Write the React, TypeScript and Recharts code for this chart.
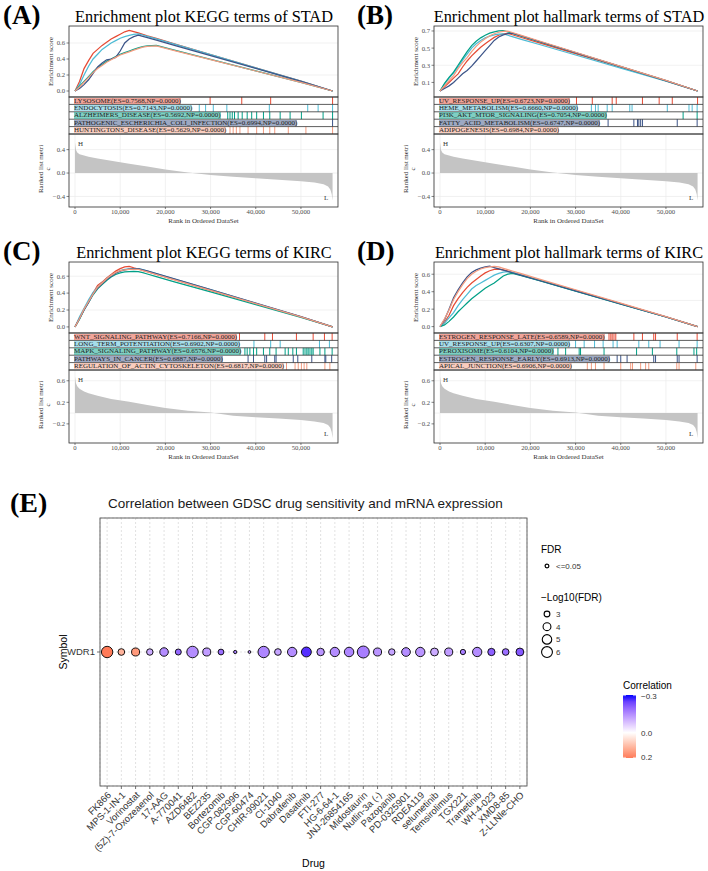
import React from "react";
import {
  LineChart,
  Line,
  AreaChart,
  Area,
  ScatterChart,
  Scatter,
  XAxis,
  YAxis,
  ZAxis,
  CartesianGrid,
  ReferenceLine,
  Cell,
} from "recharts";

const SERIF = '"Liberation Serif", "Times New Roman", serif';
const SANS = '"Liberation Sans", Arial, Helvetica, sans-serif';

// ggsci "npg" colours, one per gene-set row
const SET_COLORS = ["#E64B35", "#4DBBD5", "#00A087", "#3C5488", "#F39B7F"];

// ---------- running enrichment score, sampled at these ranks ----------
const ES_RANKS = [
  0, 1000, 2000, 3000, 4000, 5000, 6000, 7000, 8000, 9000, 10000, 11000, 12000,
  13000, 14000, 15000, 16000, 18000, 22000, 30000, 40000, 50000, 57000,
];

// STAD / KEGG
const lysosomeEs = [0, 0.12, 0.28, 0.38, 0.47, 0.52, 0.57, 0.61, 0.65, 0.68, 0.71, 0.74, 0.7568, 0.742, 0.726, 0.708, 0.69, 0.657, 0.59, 0.456, 0.29, 0.124, 0];
const endocytosisEs = [0, 0.08, 0.2, 0.31, 0.4, 0.46, 0.52, 0.56, 0.6, 0.63, 0.66, 0.68, 0.695, 0.708, 0.7143, 0.7, 0.684, 0.652, 0.587, 0.455, 0.29, 0.125, 0];
const alzheimersEs = [0, 0.06, 0.12, 0.18, 0.24, 0.29, 0.33, 0.37, 0.4, 0.43, 0.46, 0.48, 0.5, 0.52, 0.54, 0.555, 0.565, 0.5692, 0.511, 0.396, 0.252, 0.108, 0];
const ecoliEs = [0, 0.03, 0.08, 0.14, 0.22, 0.3, 0.35, 0.39, 0.4, 0.42, 0.5, 0.6, 0.65, 0.68, 0.6994, 0.683, 0.667, 0.635, 0.57, 0.443, 0.282, 0.121, 0];
const huntingtonsEs = [0, 0.05, 0.11, 0.17, 0.23, 0.28, 0.32, 0.36, 0.39, 0.42, 0.45, 0.47, 0.49, 0.51, 0.53, 0.548, 0.558, 0.5629, 0.506, 0.392, 0.25, 0.107, 0];

// STAD / hallmark
const uvUpStadEs = [0, 0.05, 0.1, 0.15, 0.2, 0.28, 0.35, 0.41, 0.46, 0.51, 0.55, 0.59, 0.625, 0.65, 0.665, 0.6723, 0.656, 0.624, 0.561, 0.435, 0.277, 0.119, 0];
const hemeEs = [0, 0.08, 0.15, 0.21, 0.28, 0.36, 0.43, 0.5, 0.55, 0.59, 0.62, 0.64, 0.655, 0.663, 0.666, 0.65, 0.635, 0.603, 0.542, 0.42, 0.267, 0.115, 0];
const pi3kEs = [0, 0.09, 0.16, 0.22, 0.3, 0.38, 0.46, 0.53, 0.58, 0.62, 0.65, 0.675, 0.69, 0.7, 0.7054, 0.689, 0.673, 0.64, 0.575, 0.446, 0.284, 0.122, 0];
const fattyAcidEs = [0, 0.03, 0.06, 0.1, 0.15, 0.2, 0.24, 0.29, 0.35, 0.41, 0.47, 0.53, 0.59, 0.63, 0.655, 0.67, 0.6747, 0.642, 0.577, 0.447, 0.285, 0.122, 0];
const adipogenesisEs = [0, 0.06, 0.12, 0.18, 0.26, 0.33, 0.39, 0.46, 0.52, 0.57, 0.61, 0.645, 0.668, 0.685, 0.695, 0.6984, 0.682, 0.649, 0.583, 0.452, 0.288, 0.123, 0];

// KIRC / KEGG
const wntEs = [0, 0.1, 0.21, 0.3, 0.4, 0.49, 0.53, 0.58, 0.62, 0.66, 0.69, 0.71, 0.7166, 0.7, 0.685, 0.67, 0.654, 0.622, 0.559, 0.433, 0.276, 0.118, 0];
const ltpEs = [0, 0.12, 0.22, 0.32, 0.41, 0.47, 0.52, 0.57, 0.61, 0.64, 0.665, 0.68, 0.688, 0.6902, 0.689, 0.677, 0.661, 0.63, 0.566, 0.44, 0.28, 0.12, 0];
const mapkEs = [0, 0.09, 0.2, 0.29, 0.38, 0.45, 0.5, 0.55, 0.59, 0.62, 0.64, 0.65, 0.655, 0.6576, 0.655, 0.642, 0.626, 0.595, 0.534, 0.414, 0.264, 0.113, 0];
const cancerEs = [0, 0.1, 0.2, 0.29, 0.39, 0.46, 0.51, 0.56, 0.6, 0.635, 0.66, 0.675, 0.683, 0.688, 0.6887, 0.676, 0.662, 0.632, 0.568, 0.442, 0.282, 0.121, 0];
const actinEs = [0, 0.1, 0.21, 0.3, 0.39, 0.47, 0.52, 0.57, 0.61, 0.645, 0.665, 0.675, 0.68, 0.6817, 0.68, 0.667, 0.652, 0.62, 0.557, 0.432, 0.275, 0.118, 0];

// KIRC / hallmark
const estrogenLateEs = [0, 0.05, 0.13, 0.24, 0.32, 0.39, 0.45, 0.5, 0.54, 0.58, 0.615, 0.64, 0.655, 0.6589, 0.65, 0.636, 0.622, 0.592, 0.533, 0.414, 0.264, 0.113, 0];
const uvUpKircEs = [0, 0.04, 0.1, 0.16, 0.24, 0.31, 0.37, 0.43, 0.47, 0.5, 0.53, 0.56, 0.59, 0.61, 0.625, 0.6307, 0.62, 0.59, 0.53, 0.41, 0.26, 0.112, 0];
const peroxisomeEs = [0, 0.02, 0.06, 0.11, 0.17, 0.22, 0.27, 0.32, 0.36, 0.4, 0.44, 0.47, 0.5, 0.54, 0.58, 0.6, 0.6104, 0.585, 0.526, 0.405, 0.258, 0.11, 0];
const estrogenEarlyEs = [0, 0.08, 0.2, 0.33, 0.42, 0.5, 0.57, 0.62, 0.65, 0.67, 0.685, 0.6913, 0.676, 0.661, 0.646, 0.632, 0.617, 0.587, 0.528, 0.41, 0.26, 0.111, 0];
const apicalEs = [0, 0.09, 0.19, 0.31, 0.4, 0.48, 0.55, 0.6, 0.635, 0.66, 0.675, 0.684, 0.6906, 0.683, 0.667, 0.652, 0.637, 0.606, 0.545, 0.422, 0.269, 0.115, 0];

// ---------- hit positions (rank of each gene in the set) ----------
const lysosomeHits = [29900, 36900, 43300, 57000];
const endocytosisHits = [27500, 28900, 30600, 33600, 43000, 51500, 53800, 57000];
const alzheimersHits = [33800, 34300, 34800, 35300, 36100, 37000, 38100, 39100, 40200, 41700, 43100, 45400, 47600, 50100, 54900, 57000];
const ecoliHits = [57000];
const huntingtonsHits = [34300, 35000, 35700, 36500, 38300, 40200, 41700, 43100, 44200, 47200, 51100, 57000];

const uvUpStadHits = [30200, 33700, 38100, 39000, 44800, 48500, 51400, 57000];
const hemeHits = [33500, 34400, 35000, 37000, 38100, 42000, 42500, 50300, 55100, 55800, 56900];
const pi3kHits = [53800, 56900];
const fattyAcidHits = [37200, 42900, 43700, 44000, 44400, 44800, 52500, 56900];
const adipogenesisHits: number[] = [];

const wntHits = [36400, 42000, 43700, 49000, 52700, 55200, 56900];
const ltpHits = [39600, 43300, 45400, 54100, 56300];
const mapkHits = [37600, 38100, 38700, 39500, 40200, 41700, 43100, 44500, 46500, 47200, 48200, 49000, 50500, 50900, 51300, 51600, 52000, 52400, 52700, 54200, 55300, 56900];
const cancerHits = [38300, 39500, 42000, 42400, 44200, 44500, 48300, 49300, 52400, 55300, 55500, 56800];
const actinHits = [46800, 48700, 49400, 50100, 50700, 51300, 55300, 56400];

const estrogenLateHits = [37400, 37800, 38100, 38500, 38900, 42900, 44800, 47300, 47700, 52500, 56900];
const uvUpKircHits = [30000, 31900, 34200, 36100, 38300, 39200, 44000, 46200, 48700, 52900, 56900];
const peroxisomeHits = [26100, 27800, 30800, 31100, 36300, 43500, 47000, 52400, 56200, 56800];
const estrogenEarlyHits = [39200, 40000, 41400, 47300, 47700, 52500, 52900, 56900];
const apicalHits = [32600, 33500, 34400, 36300, 40000, 42200, 42600, 44400, 45500, 46200, 52400, 52900, 56600];

// ---------- ranked list metric ----------
const METRIC_RANKS = [0, 200, 500, 1000, 2000, 3000, 5000, 8000, 12000, 16000, 20000, 25000, 30000, 35000, 40000, 45000, 50000, 53000, 55000, 56000, 56500, 56800, 57000];
const stadMetric = [0.52, 0.4, 0.35, 0.32, 0.3, 0.28, 0.25, 0.21, 0.16, 0.11, 0.06, 0.01, -0.035, -0.065, -0.09, -0.115, -0.14, -0.16, -0.19, -0.23, -0.28, -0.36, -0.47];
const kircMetric = [0.68, 0.56, 0.5, 0.45, 0.4, 0.37, 0.32, 0.26, 0.21, 0.15, 0.095, 0.045, 0.01, -0.05, -0.075, -0.1, -0.13, -0.155, -0.185, -0.22, -0.27, -0.35, -0.46];

// ---------- drug sensitivity (GDSC) ----------
const GENE = "WDR1";
const DRUGS = [
  "FK866", "MPS-1-IN-1", "Vorinostat", "(5Z)-7-Oxozeaenol", "17-AAG", "A-770041",
  "AZD6482", "BEZ235", "Bortezomib", "CGP-082996", "CGP-60474", "CHIR-99021",
  "CI-1040", "Dabrafenib", "Dasatinib", "FTI-277", "HG-6-64-1", "JNJ-26854165",
  "Midostaurin", "Nutlin-3a (-)", "Pazopanib", "PD-0325901", "RDEA119", "selumetinib",
  "Temsirolimus", "TGX221", "Trametinib", "WH-4-023", "XMD8-85", "Z-LLNle-CHO",
];
const CORRELATION = [0.205, 0.12, 0.16, -0.11, -0.15, -0.2, -0.15, -0.13, -0.19, -0.17, -0.14, -0.16, -0.12, -0.15, -0.27, -0.14, -0.15, -0.16, -0.17, -0.14, -0.12, -0.15, -0.14, -0.11, -0.13, -0.17, -0.15, -0.21, -0.19, -0.22];
const NEG_LOG_FDR = [6.4, 3.4, 4.1, 3.3, 4.4, 3.1, 6.5, 4.1, 3.0, 2.2, 2.1, 6.4, 3.4, 4.9, 5.3, 3.8, 4.9, 5.0, 6.9, 4.1, 3.3, 4.5, 4.9, 4.0, 4.1, 2.8, 4.9, 3.7, 3.4, 4.0];
const FDR_BREAKS = [3, 4, 5, 6];
const CORR_BREAKS = [-0.3, 0.0, 0.2];
const CORR_RANGE = [-0.305, 0.205];
const CORR_LIMIT = 0.305;
const Z_DOMAIN = [2, 7];
const Z_RANGE = [4, 115];

// ---------- layout of one GSEA panel (local px) ----------
const X_DOMAIN = [-1330, 58200];
const X_TICKS = [0, 10000, 20000, 30000, 40000, 50000];
const PL = 69;
const PR = 338;
const YW = 30;
const ES_TOP = 26;
const ES_H = 71;
const ROWS_TOP = 97;
const ROW_H = 7.4;
const MET_TOP = 134;
const MET_H = 73;

const TICK = { fontSize: 6.7, fontFamily: SERIF, fill: "#4D4D4D" };
const TICK_LINE = { stroke: "#333", strokeWidth: 0.6 };

const fmt1 = (v: number) => v.toFixed(1);
const fmtSigned = (v: number) => (v < 0 ? "\u2212" : "") + Math.abs(v).toFixed(1);

function rgba(hex: string, a: number) {
  const n = parseInt(hex.slice(1), 16);
  return `rgba(${n >> 16},${(n >> 8) & 255},${n & 255},${a})`;
}

function geneSet(name: string, es: number[], hits: number[]) {
  return { name, es, hits, label: `${name}(ES=${Math.max(...es).toFixed(4)},NP=0.0000)` };
}

const PANELS = [
  {
    left: 0, top: 0, tagX: 3, tag: "(A)",
    title: "Enrichment plot KEGG terms of STAD",
    sets: [
      geneSet("LYSOSOME", lysosomeEs, lysosomeHits),
      geneSet("ENDOCYTOSIS", endocytosisEs, endocytosisHits),
      geneSet("ALZHEIMERS_DISEASE", alzheimersEs, alzheimersHits),
      geneSet("PATHOGENIC_ESCHERICHIA_COLI_INFECTION", ecoliEs, ecoliHits),
      geneSet("HUNTINGTONS_DISEASE", huntingtonsEs, huntingtonsHits),
    ],
    esDomain: [-0.075, 0.8125], esTicks: [0, 0.2, 0.4, 0.6],
    metric: stadMetric, metricDomain: [-0.58, 0.667], metricTicks: [-0.4, -0.2, 0, 0.2, 0.4],
  },
  {
    left: 365, top: 0, tagX: 357, tag: "(B)",
    title: "Enrichment plot hallmark terms of STAD",
    sets: [
      geneSet("UV_RESPONSE_UP", uvUpStadEs, uvUpStadHits),
      geneSet("HEME_METABOLISM", hemeEs, hemeHits),
      geneSet("PI3K_AKT_MTOR_SIGNALING", pi3kEs, pi3kHits),
      geneSet("FATTY_ACID_METABOLISM", fattyAcidEs, fattyAcidHits),
      geneSet("ADIPOGENESIS", adipogenesisEs, adipogenesisHits),
    ],
    esDomain: [-0.07, 0.758], esTicks: [0, 0.1, 0.2, 0.3, 0.4, 0.5, 0.6, 0.7],
    metric: stadMetric, metricDomain: [-0.58, 0.667], metricTicks: [-0.4, -0.2, 0, 0.2, 0.4],
  },
  {
    left: 0, top: 236, tagX: 3, tag: "(C)",
    title: "Enrichment plot KEGG terms of KIRC",
    sets: [
      geneSet("WNT_SIGNALING_PATHWAY", wntEs, wntHits),
      geneSet("LONG_TERM_POTENTIATION", ltpEs, ltpHits),
      geneSet("MAPK_SIGNALING_PATHWAY", mapkEs, mapkHits),
      geneSet("PATHWAYS_IN_CANCER", cancerEs, cancerHits),
      geneSet("REGULATION_OF_ACTIN_CYTOSKELETON", actinEs, actinHits),
    ],
    esDomain: [-0.072, 0.768], esTicks: [0, 0.2, 0.4, 0.6],
    metric: kircMetric, metricDomain: [-0.555, 0.8], metricTicks: [-0.4, -0.2, 0, 0.2, 0.4, 0.6],
  },
  {
    left: 365, top: 236, tagX: 357, tag: "(D)",
    title: "Enrichment plot hallmark terms of KIRC",
    sets: [
      geneSet("ESTROGEN_RESPONSE_LATE", estrogenLateEs, estrogenLateHits),
      geneSet("UV_RESPONSE_UP", uvUpKircEs, uvUpKircHits),
      geneSet("PEROXISOME", peroxisomeEs, peroxisomeHits),
      geneSet("ESTROGEN_RESPONSE_EARLY", estrogenEarlyEs, estrogenEarlyHits),
      geneSet("APICAL_JUNCTION", apicalEs, apicalHits),
    ],
    esDomain: [-0.073, 0.74], esTicks: [0, 0.1, 0.2, 0.3, 0.4, 0.5, 0.6],
    metric: kircMetric, metricDomain: [-0.555, 0.8], metricTicks: [-0.4, -0.2, 0, 0.2, 0.4, 0.6],
  },
];

function GseaPanel({ spec }: { spec: any }) {
  const { left, top, tagX, tag, title, sets, esDomain, esTicks, metric, metricDomain, metricTicks } = spec;
  const esRows = ES_RANKS.map((rank, i) => {
    const row: Record<string, number> = { rank };
    sets.forEach((s: any, j: number) => {
      row[`s${j}`] = s.es[i];
    });
    return row;
  });
  const metricRows = METRIC_RANKS.map((rank, i) => ({ rank, metric: metric[i] }));
  const rowsH = ROW_H * sets.length;

  return (
    <div style={{ position: "absolute", left, top, width: 354, height: 236 }}>
      {/* running enrichment score */}
      <div style={{ position: "absolute", left: 0, top: ES_TOP }}>
        <LineChart width={PR} height={ES_H} data={esRows} margin={{ top: 0, right: 0, bottom: 0, left: PL - YW }}>
          <CartesianGrid stroke="#EBEBEB" strokeWidth={0.7} />
          <XAxis type="number" dataKey="rank" domain={X_DOMAIN} ticks={X_TICKS} allowDataOverflow height={0} tick={false} tickLine={false} axisLine={false} />
          <YAxis type="number" domain={esDomain} ticks={esTicks} allowDataOverflow width={YW} axisLine={false} tickSize={2.5} tickMargin={1.5} tickLine={TICK_LINE} tick={TICK} tickFormatter={fmt1} />
          {sets.map((s: any, j: number) => (
            <Line key={s.name} type="linear" dataKey={`s${j}`} stroke={SET_COLORS[j]} strokeWidth={1.25} dot={false} activeDot={false} isAnimationActive={false} />
          ))}
        </LineChart>
      </div>

      {/* gene hits, one row per set */}
      <div style={{ position: "absolute", left: 0, top: ROWS_TOP }}>
        <LineChart width={PR} height={rowsH} data={esRows} margin={{ top: 0, right: 0, bottom: 0, left: PL }}>
          <XAxis type="number" dataKey="rank" domain={X_DOMAIN} allowDataOverflow hide />
          <YAxis type="number" domain={[0, sets.length]} allowDataOverflow reversed hide />
          {sets.map((s: any, j: number) =>
            s.hits.map((h: number, k: number) => (
              <ReferenceLine
                key={`${s.name}-${k}`}
                segment={[{ x: h, y: j }, { x: h, y: j + 1 }]}
                stroke={SET_COLORS[j]}
                strokeWidth={1}
              />
            ))
          )}
          {[1, 2, 3, 4].map((y) => (
            <ReferenceLine key={`sep-${y}`} y={y} stroke="#333" strokeWidth={0.8} />
          ))}
        </LineChart>
      </div>
      {sets.map((s: any, j: number) => (
        <div
          key={`lab-${s.name}`}
          style={{
            position: "absolute",
            left: PL + 5,
            top: ROWS_TOP + j * ROW_H + 0.6,
            height: ROW_H - 1.2,
            lineHeight: `${ROW_H - 1.2}px`,
            fontFamily: SERIF,
            fontSize: 7,
            color: "#222",
            background: rgba(SET_COLORS[j], 0.5),
            whiteSpace: "nowrap",
          }}
        >
          {s.label}
        </div>
      ))}

      {/* ranked list metric */}
      <div style={{ position: "absolute", left: 0, top: MET_TOP }}>
        <AreaChart width={PR} height={MET_H + 12} data={metricRows} margin={{ top: 0, right: 0, bottom: 0, left: PL - YW }}>
          <CartesianGrid stroke="#EBEBEB" strokeWidth={0.7} />
          <XAxis type="number" dataKey="rank" domain={X_DOMAIN} ticks={X_TICKS} allowDataOverflow height={12} interval={0} axisLine={false} tickSize={2} tickMargin={0} tickLine={TICK_LINE} tick={TICK} tickFormatter={(v: number) => v.toLocaleString("en-US")} />
          <YAxis type="number" domain={metricDomain} ticks={metricTicks} allowDataOverflow width={YW} axisLine={false} tickSize={2.5} tickMargin={1.5} tickLine={TICK_LINE} tick={TICK} tickFormatter={fmtSigned} />
          <Area type="linear" dataKey="metric" baseValue={0} stroke="none" fill="#C4C4C4" fillOpacity={1} activeDot={false} isAnimationActive={false} />
        </AreaChart>
      </div>

      <svg width={354} height={236} style={{ position: "absolute", left: 0, top: 0, overflow: "visible", pointerEvents: "none" }}>
        <text x={tagX - left} y={24} fontFamily={SERIF} fontWeight="bold" fontSize={27} fill="#000">{tag}</text>
        <text x={204} y={22} textAnchor="middle" fontFamily={SERIF} fontSize={16.3} fill="#000">{title}</text>
        <rect x={PL} y={ES_TOP} width={PR - PL} height={ES_H} fill="none" stroke="#333" strokeWidth={0.8} />
        <rect x={PL} y={ROWS_TOP} width={PR - PL} height={rowsH} fill="none" stroke="#333" strokeWidth={0.8} />
        <rect x={PL} y={MET_TOP} width={PR - PL} height={MET_H} fill="none" stroke="#333" strokeWidth={0.8} />
        <text transform={`translate(52.5,${ES_TOP + ES_H / 2}) rotate(-90)`} textAnchor="middle" fontFamily={SERIF} fontSize={7} fill="#333">Enrichment score</text>
        <text transform={`translate(42.5,${MET_TOP + 35}) rotate(-90)`} textAnchor="middle" fontFamily={SERIF} fontSize={7} fill="#333">Ranked list metri</text>
        <text transform={`translate(50,${MET_TOP + 35}) rotate(-90)`} textAnchor="middle" fontFamily={SERIF} fontSize={7} fill="#333">c</text>
        <text x={78} y={MET_TOP + 12} fontFamily={SERIF} fontSize={7} fill="#333">H</text>
        <text x={324} y={MET_TOP + 66} fontFamily={SERIF} fontSize={7} fill="#333">L</text>
        <text x={203.5} y={MET_TOP + MET_H + 15.5} textAnchor="middle" fontFamily={SERIF} fontSize={7} fill="#333">Rank in Ordered DataSet</text>
      </svg>
    </div>
  );
}

// ---------- correlation colour scale: blue - white - red, mixed in Lab ----------
function toLab(hex: string) {
  const n = parseInt(hex.slice(1), 16);
  const [r, g, b] = [n >> 16, (n >> 8) & 255, n & 255].map((c) => {
    const v = c / 255;
    return v <= 0.04045 ? v / 12.92 : Math.pow((v + 0.055) / 1.055, 2.4);
  });
  const f = (t: number) => (t > 0.008856 ? Math.cbrt(t) : 7.787 * t + 16 / 116);
  const fx = f((0.4124 * r + 0.3576 * g + 0.1805 * b) / 0.95047);
  const fy = f(0.2126 * r + 0.7152 * g + 0.0722 * b);
  const fz = f((0.0193 * r + 0.1192 * g + 0.9505 * b) / 1.08883);
  return [116 * fy - 16, 500 * (fx - fy), 200 * (fy - fz)];
}

function fromLab([L, a, bb]: number[]) {
  const fy = (L + 16) / 116;
  const fx = fy + a / 500;
  const fz = fy - bb / 200;
  const inv = (t: number) => (t * t * t > 0.008856 ? t * t * t : (t - 16 / 116) / 7.787);
  const x = inv(fx) * 0.95047;
  const y = inv(fy);
  const z = inv(fz) * 1.08883;
  const lin = [
    3.2406 * x - 1.5372 * y - 0.4986 * z,
    -0.9689 * x + 1.8758 * y + 0.0415 * z,
    0.0557 * x - 0.204 * y + 1.057 * z,
  ];
  const out = lin.map((c) => {
    const cc = Math.max(0, c);
    const v = cc <= 0.0031308 ? 12.92 * cc : 1.055 * Math.pow(cc, 1 / 2.4) - 0.055;
    return Math.round(Math.min(1, Math.max(0, v)) * 255);
  });
  return `rgb(${out.join(",")})`;
}

const LAB_LOW = toLab("#0000FF");
const LAB_MID = toLab("#FFFFFF");
const LAB_HIGH = toLab("#FF0000");

function corrColor(v: number) {
  const t = Math.min(1, Math.abs(v) / CORR_LIMIT);
  const end = v < 0 ? LAB_LOW : LAB_HIGH;
  return fromLab(LAB_MID.map((m, i) => m + (end[i] - m) * t));
}

function bubbleRadius(v: number) {
  const area = Z_RANGE[0] + ((v - Z_DOMAIN[0]) / (Z_DOMAIN[1] - Z_DOMAIN[0])) * (Z_RANGE[1] - Z_RANGE[0]);
  return Math.sqrt(area / Math.PI);
}

const drugRows = DRUGS.map((drug, i) => ({
  drug,
  gene: GENE,
  corr: CORRELATION[i],
  logFdr: NEG_LOG_FDR[i],
}));

function DrugTick(props: any) {
  const { x, y, payload } = props;
  return (
    <text
      x={x}
      y={y}
      dy="0.7em"
      transform={`rotate(-45, ${x}, ${y})`}
      textAnchor="end"
      fontFamily={SANS}
      fontSize={9.5}
      fill="#333"
    >
      {payload.value}
    </text>
  );
}

const E_LEFT = 100;
const E_TOP = 518;
const E_RIGHT = 527;
const E_BOTTOM = 786;
const BAR_TOP = 695;
const BAR_H = 63;

function DrugPanel() {
  const gradStops = [-0.305, -0.25, -0.2, -0.15, -0.1, -0.05, 0, 0.05, 0.1, 0.15, 0.205];
  const barY = (v: number) => BAR_TOP + ((v - CORR_RANGE[0]) / (CORR_RANGE[1] - CORR_RANGE[0])) * BAR_H;
  return (
    <>
      <div style={{ position: "absolute", left: 0, top: 500 }}>
        <ScatterChart width={530} height={370} margin={{ top: 18, right: 3, bottom: 4, left: 60 }}>
          <CartesianGrid strokeDasharray="2 2" stroke="#D4D4D4" strokeWidth={0.7} />
          <XAxis type="category" dataKey="drug" allowDuplicatedCategory={false} interval={0} height={80} axisLine={false} tickSize={3} tickMargin={2} tickLine={{ stroke: "#333", strokeWidth: 0.7 }} tick={(p: any) => <DrugTick {...p} />} />
          <YAxis type="category" dataKey="gene" allowDuplicatedCategory={false} width={40} axisLine={false} tickSize={3} tickMargin={2} tickLine={{ stroke: "#333", strokeWidth: 0.7 }} tick={{ fontSize: 9.5, fontFamily: SANS, fill: "#333" }} />
          <ZAxis type="number" dataKey="logFdr" domain={Z_DOMAIN} range={Z_RANGE} />
          <Scatter data={drugRows} stroke="#000" strokeWidth={0.9} isAnimationActive={false}>
            {drugRows.map((d) => (
              <Cell key={d.drug} fill={corrColor(d.corr)} />
            ))}
          </Scatter>
        </ScatterChart>
      </div>

      <svg width={708} height={871} style={{ position: "absolute", left: 0, top: 0, overflow: "visible", pointerEvents: "none" }}>
        <defs>
          <linearGradient id="corrBar" x1="0" y1="0" x2="0" y2="1">
            {gradStops.map((v) => (
              <stop key={v} offset={(v - CORR_RANGE[0]) / (CORR_RANGE[1] - CORR_RANGE[0])} stopColor={corrColor(v)} />
            ))}
          </linearGradient>
        </defs>
        <text x={10} y={512} fontFamily={SERIF} fontWeight="bold" fontSize={28} fill="#000">(E)</text>
        <text x={108} y={508} fontFamily={SANS} fontSize={13.5} fill="#1a1a1a">
          Correlation between GDSC drug sensitivity and mRNA expression
        </text>
        <rect x={E_LEFT} y={E_TOP} width={E_RIGHT - E_LEFT} height={E_BOTTOM - E_TOP} fill="none" stroke="#555" strokeWidth={0.9} />
        <text transform={`translate(67,${(E_TOP + E_BOTTOM) / 2}) rotate(-90)`} textAnchor="middle" fontFamily={SANS} fontSize={10.5} fill="#000">Symbol</text>
        <text x={(E_LEFT + E_RIGHT) / 2} y={867} textAnchor="middle" fontFamily={SANS} fontSize={10.5} fill="#000">Drug</text>

        {/* FDR legend */}
        <text x={541} y={553} fontFamily={SANS} fontSize={10} fill="#000">FDR</text>
        <circle cx={547} cy={566} r={1.9} fill="#fff" stroke="#000" strokeWidth={1.2} />
        <text x={556} y={569} fontFamily={SANS} fontSize={8} fill="#333">{"<=0.05"}</text>

        {/* size legend */}
        <text x={541} y={601} fontFamily={SANS} fontSize={10} fill="#000">{"\u2212Log10(FDR)"}</text>
        {FDR_BREAKS.map((v, i) => (
          <g key={v}>
            <circle cx={547} cy={614 + i * 12.7} r={bubbleRadius(v)} fill="#fff" stroke="#000" strokeWidth={1.1} />
            <text x={556} y={617 + i * 12.7} fontFamily={SANS} fontSize={8} fill="#333">{v}</text>
          </g>
        ))}

        {/* colour legend */}
        <text x={623} y={689} fontFamily={SANS} fontSize={10} fill="#000">Correlation</text>
        <rect x={623} y={BAR_TOP} width={13} height={BAR_H} fill="url(#corrBar)" />
        {CORR_BREAKS.map((v) => (
          <g key={v}>
            <line x1={623} x2={626} y1={barY(v)} y2={barY(v)} stroke="#fff" strokeWidth={0.6} />
            <line x1={633} x2={636} y1={barY(v)} y2={barY(v)} stroke="#fff" strokeWidth={0.6} />
            <text x={641} y={barY(v) + 3} fontFamily={SANS} fontSize={8} fill="#333">{fmtSigned(v)}</text>
          </g>
        ))}
      </svg>
    </>
  );
}

export default function App() {
  return (
    <div style={{ position: "absolute", left: 0, top: 0, width: 708, height: 871, background: "#fff", overflow: "hidden" }}>
      {PANELS.map((p) => (
        <GseaPanel key={p.tag} spec={p} />
      ))}
      <DrugPanel />
    </div>
  );
}
